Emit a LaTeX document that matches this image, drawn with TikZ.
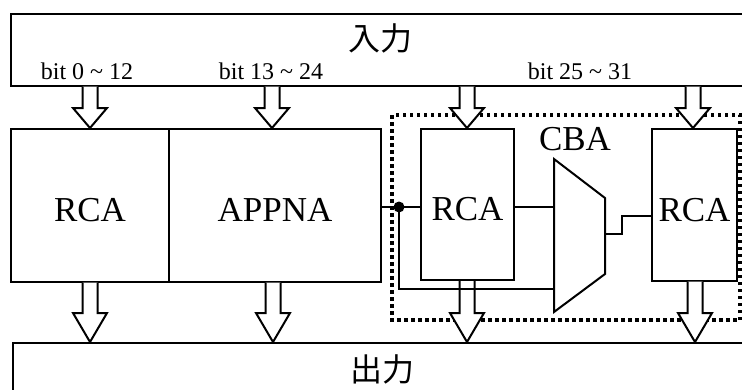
\documentclass[tikz,border=0pt]{standalone}
\usepackage{fontspec}
\setmainfont{Liberation Serif}
\newfontfamily\cjk{Noto Sans CJK JP}
\tikzset{
  blk/.style={draw, line width=2pt, fill=white, inner sep=0pt, anchor=north west},
  wire/.style={line width=2pt},
  barrow/.style={draw, line width=2pt, fill=white, line join=miter},
  big/.style={font=\fontsize{35}{40}\selectfont},
  blktext/.style={big, text height=32pt, text depth=0pt},
  lbl/.style={font=\fontsize{24}{28}\selectfont, inner sep=0pt, anchor=base},
  cjklbl/.style={font=\cjk\fontsize{32}{36}\selectfont, inner sep=0pt},
  dotbox/.style={line width=3.5pt, dash pattern=on 3.5pt off 3.5pt},
}
% #1 x centre, #2 y top, #3 y tip, #4 head length
\newcommand\blkarrow[4]{%
  \draw[barrow] (#1-7.5,#2) -- (#1-7.5,#3-#4) -- (#1-17,#3-#4) -- (#1,#3)
    -- (#1+17,#3-#4) -- (#1+7.5,#3-#4) -- (#1+7.5,#2);}
\begin{document}
\begin{tikzpicture}[x=1pt,y=-1pt]
\clip (0,0) rectangle (742,389);
\fill[white] (0,0) rectangle (742,389);
% input / output bars
\node[blk, minimum width=780pt, minimum height=72pt] (in) at (9.5,13) {};
\node[cjklbl] (intext) at (380,38) {入力};
\node[blk, minimum width=780pt, minimum height=80pt] (out) at (12,342) {};
\node[cjklbl] (outtext) at (382,369) {出力};
% bit labels
\node[lbl] (b0) at (87,79) {bit 0 \char`~\ 12};
\node[lbl] (b1) at (271,79) {bit 13 \char`~\ 24};
\node[lbl] (b2) at (580,79) {bit 25 \char`~\ 31};
% main blocks
\node[blk, blktext, minimum width=158pt, minimum height=153pt] (rca0) at (10,128) {RCA};
\node[blk, blktext, minimum width=212pt, minimum height=153pt] (appna) at (168,128) {APPNA};
% dotted CBA region
\draw[dotbox] (392,115) rectangle (740,320);
\node[blk, blktext, minimum width=93pt, minimum height=151pt] (rca1) at (420,128) {RCA};
\node[blk, blktext, minimum width=85pt, minimum height=152pt] (rca2) at (651,128) {RCA};
\node[big, inner sep=0pt] (cba) at (575,139) {CBA};
% mux
\draw[wire, line join=miter] (554,159) -- (605,198) -- (605,274) -- (554,312) -- cycle;
\coordinate (muxin1) at (554,207);
\coordinate (muxin2) at (554,289);
\coordinate (muxout) at (605,234);
\coordinate (j) at (399,207);
% wires
\draw[wire] (appna.east |- j) -- (rca1.west |- j);
\draw[wire] (rca1.east |- muxin1) -- (muxin1);
\draw[wire] (muxout) -- (622,234) -- (622,216) -- (rca2.west |- 0,216);
% block arrows in
\blkarrow{90}{86.5}{128}{20}
\blkarrow{272}{86.5}{128}{20}
\blkarrow{467}{86.5}{128}{20}
\blkarrow{693}{86.5}{128}{20}
% block arrows out
\blkarrow{90}{282.5}{342}{29}
\blkarrow{273}{282.5}{342}{29}
\blkarrow{467}{281}{342}{29}
\blkarrow{695}{281.5}{342}{29}
% carry-in branch
\draw[wire] (j) |- (muxin2);
\fill (j) circle (5.5);
\end{tikzpicture}
\end{document}
